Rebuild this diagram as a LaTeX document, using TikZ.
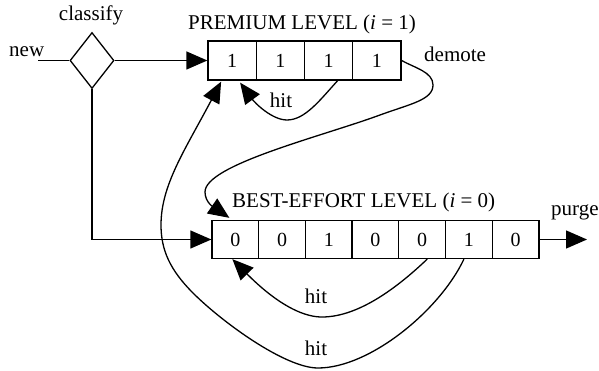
\documentclass[tikz,border=0pt]{standalone}
\usepackage{fontspec}
\setmainfont{Liberation Serif}
\usetikzlibrary{arrows.meta,shapes.geometric}
\begin{document}
\begin{tikzpicture}[x=1pt,y=-1pt,
  lbl/.style={inner sep=0pt, font=\fontsize{21}{21}\selectfont},
  pcell/.style={draw, line width=1.3pt, minimum width=48.25pt, minimum height=39pt, inner sep=0pt, font=\fontsize{20}{20}\selectfont},
  bcell/.style={draw, line width=1.3pt, minimum width=46.71pt, minimum height=38pt, inner sep=0pt, font=\fontsize{20}{20}\selectfont},
  conn/.style={draw, line width=1.3pt},
  arr/.style={conn, -{Triangle[length=21pt,width=18pt]}}]
\useasboundingbox (0,0) rectangle (599,371);
% cells
\foreach \k in {1,...,4}
  \node[pcell] (p\k) at ({208+48.25*(\k-0.5)},60.5) {1};
\foreach \v [count=\k] in {0,0,1,0,0,1,0}
  \node[bcell] (b\k) at ({212+46.71*(\k-0.5)},239.5) {\v};
% decision
\node[draw, diamond, line width=1.3pt, minimum width=44pt, minimum height=56pt, inner sep=0pt] (cls) at (92,60.5) {};
% labels
\node[lbl, anchor=base] (classify) at (91,21) {classify};
\node[lbl, anchor=base west] (new) at (9,57) {new};
\node[lbl, anchor=base west] (plevel) at (188,30) {PREMIUM LEVEL (\textit{i} = 1)};
\node[lbl, anchor=base west] (demote) at (424,62) {demote};
\node[lbl, anchor=base west] (blevel) at (232,208) {BEST-EFFORT LEVEL (\textit{i} = 0)};
\node[lbl, anchor=base west] (purge) at (551,215) {purge};
\node[lbl, anchor=base] (hitp) at (281,108) {hit};
\node[lbl, anchor=base] (hitb1) at (316,303) {hit};
\node[lbl, anchor=base] (hitb2) at (316,355) {hit};
% free ends
\coordinate (newend) at (38,60.5);
\coordinate (purgeend) at (587,239.5);
% straight connectors
\draw[conn] (newend) -- (cls.west);
\draw[arr] (cls.east) -- (p1.west);
\draw[arr] (cls.south) |- (b1.west);
\draw[arr] (b7.east) -- (purgeend);
% premium hit
\draw[arr] ([xshift=9pt]p3.south) .. controls (320,100) and (305,120) .. (287,120)
  .. controls (272,120) and (255,103) .. ([xshift=8pt,yshift=-2pt]p1.south);
% demote
\draw[arr] (p4.east) .. controls (415,68) and (433,72) .. (433,85)
  .. controls (433,100) and (410,104) .. (380,115)
  .. controls (320,137) and (205,165) .. (205,192)
  .. controls (205,203) and (215,208) .. ([xshift=-6pt,yshift=2pt]b1.north);
% best-effort hit 1
\draw[arr] ([xshift=5pt]b5.south) .. controls (400,285) and (360,317) .. (322,317)
  .. controls (290,317) and (255,282) .. ([xshift=-3pt]b1.south);
% best-effort hit 2
\draw[arr] ([xshift=-5pt]b6.south) .. controls (440,310) and (370,368) .. (318,368)
  .. controls (285,368) and (222,322) .. (193,293)
  .. controls (170,270) and (161,250) .. (161,225)
  .. controls (161,185) and (185,150) .. ([xshift=-11pt,yshift=-1pt]p1.south);
\end{tikzpicture}
\end{document}
